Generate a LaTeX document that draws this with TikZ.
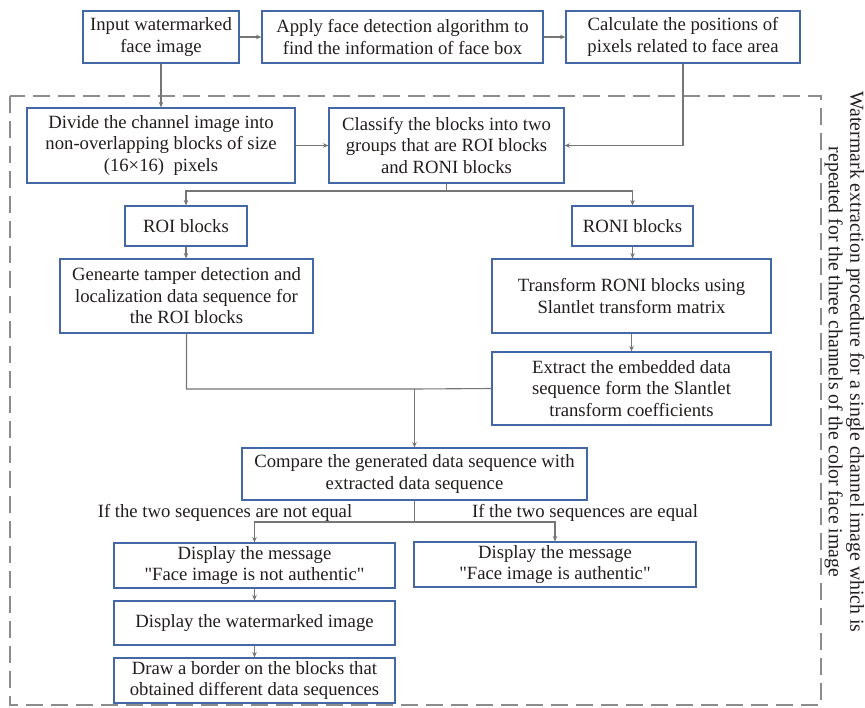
\documentclass[tikz,border=0pt]{standalone}
\usepackage{fontspec}
\setmainfont{Liberation Serif}
\newfontfamily\diagfont{Liberation Serif}
\usetikzlibrary{arrows.meta,positioning}
\definecolor{boxblue}{RGB}{68,104,165}
\definecolor{linegray}{RGB}{118,118,118}
\definecolor{dashgray}{RGB}{140,140,140}
\definecolor{txt}{RGB}{35,30,30}
\begin{document}
\begin{tikzpicture}[x=1pt,y=-1pt,
  every node/.style={font=\diagfont\fontsize{18.7}{21.5}\selectfont, text=txt},
  flowbox/.style={draw=boxblue, line width=1.1pt, align=center, inner sep=0pt, fill=white},
  conn/.style={draw=linegray, line width=1.1pt},
  arr/.style={conn, -{Stealth[length=5.5pt,width=4.5pt]}},
  lbl/.style={inner sep=0pt, align=center}
]
\useasboundingbox (0,0) rectangle (865,707);
\fill[white] (0,0) rectangle (865,707);

% dashed frame
\draw[dashgray, line width=1.4pt, dash pattern=on 17pt off 8pt] (10,96) rectangle (821,705);

% nodes
\node[flowbox, minimum width=156pt, minimum height=52pt] (input) at (161,37) {Input watermarked\\face image};
\node[flowbox, minimum width=281pt, minimum height=52pt] (detect) at (402.5,37) {Apply face detection algorithm to\\find the information of face box};
\node[flowbox, minimum width=234pt, minimum height=52pt] (calc) at (683,37) {Calculate the positions of\\pixels related to face area};
\node[flowbox, minimum width=268pt, minimum height=75pt] (divide) at (161,145.5) {Divide the channel image into\\non-overlapping blocks of size\\(16×16)\ \ pixels};
\node[flowbox, minimum width=235pt, minimum height=75pt] (classify) at (446.5,145.5) {Classify the blocks into two\\groups that are ROI blocks\\and RONI blocks};
\node[flowbox, minimum width=122pt, minimum height=40pt] (roi) at (186,226) {ROI blocks};
\node[flowbox, minimum width=121pt, minimum height=40pt] (roni) at (632.5,226) {RONI blocks};
\node[flowbox, minimum width=253pt, minimum height=74pt] (gen) at (186.5,296) {Genearte tamper detection and\\localization data sequence for\\the ROI blocks};
\node[flowbox, minimum width=279pt, minimum height=74pt] (trans) at (631.5,296) {Transform RONI blocks using\\Slantlet transform matrix};
\node[flowbox, minimum width=279pt, minimum height=73pt] (extract) at (631.5,388.5) {Extract the embedded data\\sequence form the Slantlet\\transform coefficients};
\node[flowbox, minimum width=345pt, minimum height=52pt] (compare) at (414.5,474) {Compare the generated data sequence with\\extracted data sequence};
\node[flowbox, minimum width=281pt, minimum height=45pt] (notauth) at (254.5,565.5) {Display the message\\"Face image is not authentic"};
\node[flowbox, minimum width=282pt, minimum height=45pt] (auth) at (555,564.5) {Display the message\\"Face image is authentic"};
\node[flowbox, minimum width=281pt, minimum height=44pt] (wm) at (254.5,623) {Display the watermarked image};
\node[flowbox, minimum width=281pt, minimum height=45pt] (border) at (254.5,680.5) {Draw a border on the blocks that\\obtained different data sequences};

% labels
\node[lbl] (lneq) at (225,513) {If the two sequences are not equal};
\node[lbl] (leq) at (585,513) {If the two sequences are equal};
\node[lbl, rotate=-90, font=\diagfont\fontsize{19.8}{21.5}\selectfont] (side) at (844.5,362) {Watermark extraction procedure for a single channel image which is\\repeated for the three channels of the color face image};

% coordinates
\coordinate (split) at (446.5,191);
\coordinate (join) at (414.5,389);
\coordinate (split2) at (414.5,522);

% connectors
\draw[arr] (input) -- (detect);
\draw[arr] (detect) -- (calc);
\draw[arr] (input.south) -- (input.south |- divide.north);
\draw[arr] (divide) -- (classify);
\draw[arr] (calc.south) |- (classify.east);
\draw[conn] (classify.south) -- (split);
\draw[arr] (split) -| (roi.north);
\draw[arr] (split) -| (roni.north);
\draw[arr] (roi.south) -- (roi.south |- gen.north);
\draw[arr] (roni.south) -- (roni.south |- trans.north);
\draw[arr] (trans.south) -- (trans.south |- extract.north);
\draw[conn] (gen.south) |- (join) -- (extract.west);
\draw[arr] (join) -- (compare.north);
\draw[conn] (compare.south) -- (split2);
\draw[arr] (split2) -| (notauth.north);
\draw[arr] (split2) -| (auth.north);
\draw[arr] (notauth.south) -- (notauth.south |- wm.north);
\draw[arr] (wm.south) -- (wm.south |- border.north);
\end{tikzpicture}
\end{document}
